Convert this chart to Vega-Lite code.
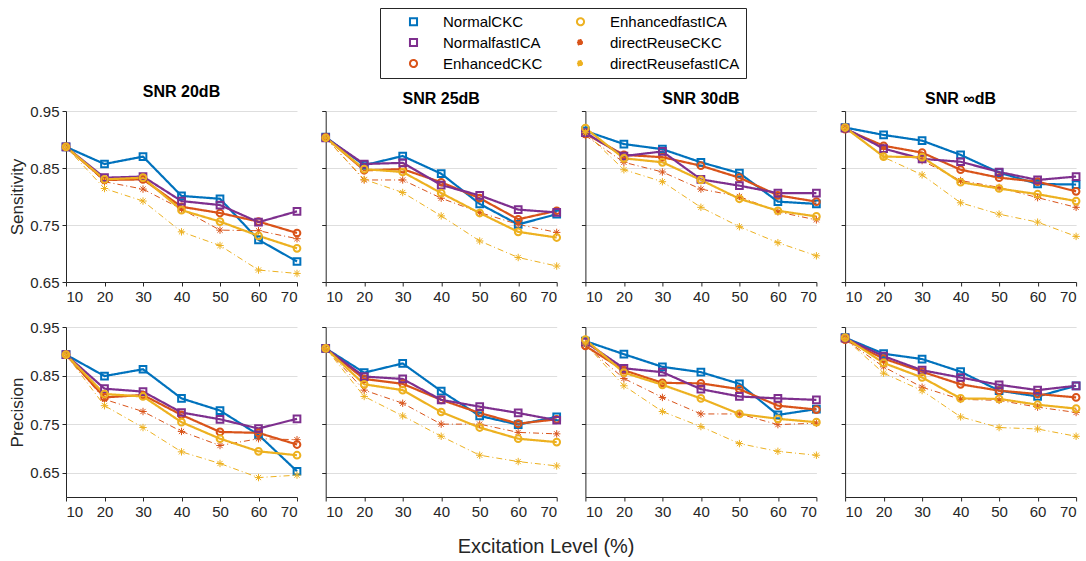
{
"$schema": "https://vega.github.io/schema/vega-lite/v6.json",
"autosize": {"type": "pad"},
"padding": {"left": 8, "top": 7, "right": 4, "bottom": 2},
"spacing": 16,
"title": {"text": "Excitation Level (%)", "orient": "bottom", "anchor": "middle", "frame": "bounds", "fontSize": 20, "fontWeight": "normal", "color": "#262626", "offset": 18},
"data": {"values": [
{"metric":"Sensitivity","snr":"20","method":"NormalCKC","level":10,"value":0.887},
{"metric":"Sensitivity","snr":"20","method":"NormalCKC","level":20,"value":0.857},
{"metric":"Sensitivity","snr":"20","method":"NormalCKC","level":30,"value":0.870},
{"metric":"Sensitivity","snr":"20","method":"NormalCKC","level":40,"value":0.801},
{"metric":"Sensitivity","snr":"20","method":"NormalCKC","level":50,"value":0.796},
{"metric":"Sensitivity","snr":"20","method":"NormalCKC","level":60,"value":0.724},
{"metric":"Sensitivity","snr":"20","method":"NormalCKC","level":70,"value":0.686},
{"metric":"Sensitivity","snr":"20","method":"EnhancedCKC","level":10,"value":0.887},
{"metric":"Sensitivity","snr":"20","method":"EnhancedCKC","level":20,"value":0.829},
{"metric":"Sensitivity","snr":"20","method":"EnhancedCKC","level":30,"value":0.830},
{"metric":"Sensitivity","snr":"20","method":"EnhancedCKC","level":40,"value":0.782},
{"metric":"Sensitivity","snr":"20","method":"EnhancedCKC","level":50,"value":0.771},
{"metric":"Sensitivity","snr":"20","method":"EnhancedCKC","level":60,"value":0.756},
{"metric":"Sensitivity","snr":"20","method":"EnhancedCKC","level":70,"value":0.736},
{"metric":"Sensitivity","snr":"20","method":"directReuseCKC","level":10,"value":0.887},
{"metric":"Sensitivity","snr":"20","method":"directReuseCKC","level":20,"value":0.826},
{"metric":"Sensitivity","snr":"20","method":"directReuseCKC","level":30,"value":0.813},
{"metric":"Sensitivity","snr":"20","method":"directReuseCKC","level":40,"value":0.778},
{"metric":"Sensitivity","snr":"20","method":"directReuseCKC","level":50,"value":0.741},
{"metric":"Sensitivity","snr":"20","method":"directReuseCKC","level":60,"value":0.740},
{"metric":"Sensitivity","snr":"20","method":"directReuseCKC","level":70,"value":0.726},
{"metric":"Sensitivity","snr":"20","method":"NormalfastICA","level":10,"value":0.887},
{"metric":"Sensitivity","snr":"20","method":"NormalfastICA","level":20,"value":0.833},
{"metric":"Sensitivity","snr":"20","method":"NormalfastICA","level":30,"value":0.835},
{"metric":"Sensitivity","snr":"20","method":"NormalfastICA","level":40,"value":0.792},
{"metric":"Sensitivity","snr":"20","method":"NormalfastICA","level":50,"value":0.785},
{"metric":"Sensitivity","snr":"20","method":"NormalfastICA","level":60,"value":0.755},
{"metric":"Sensitivity","snr":"20","method":"NormalfastICA","level":70,"value":0.774},
{"metric":"Sensitivity","snr":"20","method":"EnhancedfastICA","level":10,"value":0.887},
{"metric":"Sensitivity","snr":"20","method":"EnhancedfastICA","level":20,"value":0.830},
{"metric":"Sensitivity","snr":"20","method":"EnhancedfastICA","level":30,"value":0.833},
{"metric":"Sensitivity","snr":"20","method":"EnhancedfastICA","level":40,"value":0.776},
{"metric":"Sensitivity","snr":"20","method":"EnhancedfastICA","level":50,"value":0.756},
{"metric":"Sensitivity","snr":"20","method":"EnhancedfastICA","level":60,"value":0.731},
{"metric":"Sensitivity","snr":"20","method":"EnhancedfastICA","level":70,"value":0.709},
{"metric":"Sensitivity","snr":"20","method":"directReusefastICA","level":10,"value":0.887},
{"metric":"Sensitivity","snr":"20","method":"directReusefastICA","level":20,"value":0.814},
{"metric":"Sensitivity","snr":"20","method":"directReusefastICA","level":30,"value":0.792},
{"metric":"Sensitivity","snr":"20","method":"directReusefastICA","level":40,"value":0.738},
{"metric":"Sensitivity","snr":"20","method":"directReusefastICA","level":50,"value":0.714},
{"metric":"Sensitivity","snr":"20","method":"directReusefastICA","level":60,"value":0.671},
{"metric":"Sensitivity","snr":"20","method":"directReusefastICA","level":70,"value":0.665},
{"metric":"Sensitivity","snr":"25","method":"NormalCKC","level":10,"value":0.904},
{"metric":"Sensitivity","snr":"25","method":"NormalCKC","level":20,"value":0.855},
{"metric":"Sensitivity","snr":"25","method":"NormalCKC","level":30,"value":0.871},
{"metric":"Sensitivity","snr":"25","method":"NormalCKC","level":40,"value":0.840},
{"metric":"Sensitivity","snr":"25","method":"NormalCKC","level":50,"value":0.787},
{"metric":"Sensitivity","snr":"25","method":"NormalCKC","level":60,"value":0.751},
{"metric":"Sensitivity","snr":"25","method":"NormalCKC","level":70,"value":0.769},
{"metric":"Sensitivity","snr":"25","method":"EnhancedCKC","level":10,"value":0.904},
{"metric":"Sensitivity","snr":"25","method":"EnhancedCKC","level":20,"value":0.846},
{"metric":"Sensitivity","snr":"25","method":"EnhancedCKC","level":30,"value":0.848},
{"metric":"Sensitivity","snr":"25","method":"EnhancedCKC","level":40,"value":0.825},
{"metric":"Sensitivity","snr":"25","method":"EnhancedCKC","level":50,"value":0.797},
{"metric":"Sensitivity","snr":"25","method":"EnhancedCKC","level":60,"value":0.760},
{"metric":"Sensitivity","snr":"25","method":"EnhancedCKC","level":70,"value":0.775},
{"metric":"Sensitivity","snr":"25","method":"directReuseCKC","level":10,"value":0.903},
{"metric":"Sensitivity","snr":"25","method":"directReuseCKC","level":20,"value":0.829},
{"metric":"Sensitivity","snr":"25","method":"directReuseCKC","level":30,"value":0.829},
{"metric":"Sensitivity","snr":"25","method":"directReuseCKC","level":40,"value":0.797},
{"metric":"Sensitivity","snr":"25","method":"directReuseCKC","level":50,"value":0.772},
{"metric":"Sensitivity","snr":"25","method":"directReuseCKC","level":60,"value":0.751},
{"metric":"Sensitivity","snr":"25","method":"directReuseCKC","level":70,"value":0.737},
{"metric":"Sensitivity","snr":"25","method":"NormalfastICA","level":10,"value":0.903},
{"metric":"Sensitivity","snr":"25","method":"NormalfastICA","level":20,"value":0.857},
{"metric":"Sensitivity","snr":"25","method":"NormalfastICA","level":30,"value":0.859},
{"metric":"Sensitivity","snr":"25","method":"NormalfastICA","level":40,"value":0.820},
{"metric":"Sensitivity","snr":"25","method":"NormalfastICA","level":50,"value":0.802},
{"metric":"Sensitivity","snr":"25","method":"NormalfastICA","level":60,"value":0.777},
{"metric":"Sensitivity","snr":"25","method":"NormalfastICA","level":70,"value":0.772},
{"metric":"Sensitivity","snr":"25","method":"EnhancedfastICA","level":10,"value":0.903},
{"metric":"Sensitivity","snr":"25","method":"EnhancedfastICA","level":20,"value":0.848},
{"metric":"Sensitivity","snr":"25","method":"EnhancedfastICA","level":30,"value":0.843},
{"metric":"Sensitivity","snr":"25","method":"EnhancedfastICA","level":40,"value":0.806},
{"metric":"Sensitivity","snr":"25","method":"EnhancedfastICA","level":50,"value":0.771},
{"metric":"Sensitivity","snr":"25","method":"EnhancedfastICA","level":60,"value":0.738},
{"metric":"Sensitivity","snr":"25","method":"EnhancedfastICA","level":70,"value":0.728},
{"metric":"Sensitivity","snr":"25","method":"directReusefastICA","level":10,"value":0.903},
{"metric":"Sensitivity","snr":"25","method":"directReusefastICA","level":20,"value":0.830},
{"metric":"Sensitivity","snr":"25","method":"directReusefastICA","level":30,"value":0.807},
{"metric":"Sensitivity","snr":"25","method":"directReusefastICA","level":40,"value":0.766},
{"metric":"Sensitivity","snr":"25","method":"directReusefastICA","level":50,"value":0.722},
{"metric":"Sensitivity","snr":"25","method":"directReusefastICA","level":60,"value":0.693},
{"metric":"Sensitivity","snr":"25","method":"directReusefastICA","level":70,"value":0.678},
{"metric":"Sensitivity","snr":"30","method":"NormalCKC","level":10,"value":0.915},
{"metric":"Sensitivity","snr":"30","method":"NormalCKC","level":20,"value":0.892},
{"metric":"Sensitivity","snr":"30","method":"NormalCKC","level":30,"value":0.883},
{"metric":"Sensitivity","snr":"30","method":"NormalCKC","level":40,"value":0.860},
{"metric":"Sensitivity","snr":"30","method":"NormalCKC","level":50,"value":0.841},
{"metric":"Sensitivity","snr":"30","method":"NormalCKC","level":60,"value":0.791},
{"metric":"Sensitivity","snr":"30","method":"NormalCKC","level":70,"value":0.787},
{"metric":"Sensitivity","snr":"30","method":"EnhancedCKC","level":10,"value":0.910},
{"metric":"Sensitivity","snr":"30","method":"EnhancedCKC","level":20,"value":0.873},
{"metric":"Sensitivity","snr":"30","method":"EnhancedCKC","level":30,"value":0.869},
{"metric":"Sensitivity","snr":"30","method":"EnhancedCKC","level":40,"value":0.854},
{"metric":"Sensitivity","snr":"30","method":"EnhancedCKC","level":50,"value":0.833},
{"metric":"Sensitivity","snr":"30","method":"EnhancedCKC","level":60,"value":0.802},
{"metric":"Sensitivity","snr":"30","method":"EnhancedCKC","level":70,"value":0.791},
{"metric":"Sensitivity","snr":"30","method":"directReuseCKC","level":10,"value":0.907},
{"metric":"Sensitivity","snr":"30","method":"directReuseCKC","level":20,"value":0.860},
{"metric":"Sensitivity","snr":"30","method":"directReuseCKC","level":30,"value":0.843},
{"metric":"Sensitivity","snr":"30","method":"directReuseCKC","level":40,"value":0.813},
{"metric":"Sensitivity","snr":"30","method":"directReuseCKC","level":50,"value":0.800},
{"metric":"Sensitivity","snr":"30","method":"directReuseCKC","level":60,"value":0.773},
{"metric":"Sensitivity","snr":"30","method":"directReuseCKC","level":70,"value":0.759},
{"metric":"Sensitivity","snr":"30","method":"NormalfastICA","level":10,"value":0.912},
{"metric":"Sensitivity","snr":"30","method":"NormalfastICA","level":20,"value":0.871},
{"metric":"Sensitivity","snr":"30","method":"NormalfastICA","level":30,"value":0.879},
{"metric":"Sensitivity","snr":"30","method":"NormalfastICA","level":40,"value":0.830},
{"metric":"Sensitivity","snr":"30","method":"NormalfastICA","level":50,"value":0.819},
{"metric":"Sensitivity","snr":"30","method":"NormalfastICA","level":60,"value":0.806},
{"metric":"Sensitivity","snr":"30","method":"NormalfastICA","level":70,"value":0.806},
{"metric":"Sensitivity","snr":"30","method":"EnhancedfastICA","level":10,"value":0.920},
{"metric":"Sensitivity","snr":"30","method":"EnhancedfastICA","level":20,"value":0.867},
{"metric":"Sensitivity","snr":"30","method":"EnhancedfastICA","level":30,"value":0.860},
{"metric":"Sensitivity","snr":"30","method":"EnhancedfastICA","level":40,"value":0.829},
{"metric":"Sensitivity","snr":"30","method":"EnhancedfastICA","level":50,"value":0.796},
{"metric":"Sensitivity","snr":"30","method":"EnhancedfastICA","level":60,"value":0.775},
{"metric":"Sensitivity","snr":"30","method":"EnhancedfastICA","level":70,"value":0.765},
{"metric":"Sensitivity","snr":"30","method":"directReusefastICA","level":10,"value":0.912},
{"metric":"Sensitivity","snr":"30","method":"directReusefastICA","level":20,"value":0.847},
{"metric":"Sensitivity","snr":"30","method":"directReusefastICA","level":30,"value":0.826},
{"metric":"Sensitivity","snr":"30","method":"directReusefastICA","level":40,"value":0.781},
{"metric":"Sensitivity","snr":"30","method":"directReusefastICA","level":50,"value":0.747},
{"metric":"Sensitivity","snr":"30","method":"directReusefastICA","level":60,"value":0.719},
{"metric":"Sensitivity","snr":"30","method":"directReusefastICA","level":70,"value":0.696},
{"metric":"Sensitivity","snr":"inf","method":"NormalCKC","level":10,"value":0.921},
{"metric":"Sensitivity","snr":"inf","method":"NormalCKC","level":20,"value":0.908},
{"metric":"Sensitivity","snr":"inf","method":"NormalCKC","level":30,"value":0.898},
{"metric":"Sensitivity","snr":"inf","method":"NormalCKC","level":40,"value":0.873},
{"metric":"Sensitivity","snr":"inf","method":"NormalCKC","level":50,"value":0.842},
{"metric":"Sensitivity","snr":"inf","method":"NormalCKC","level":60,"value":0.822},
{"metric":"Sensitivity","snr":"inf","method":"NormalCKC","level":70,"value":0.821},
{"metric":"Sensitivity","snr":"inf","method":"EnhancedCKC","level":10,"value":0.918},
{"metric":"Sensitivity","snr":"inf","method":"EnhancedCKC","level":20,"value":0.889},
{"metric":"Sensitivity","snr":"inf","method":"EnhancedCKC","level":30,"value":0.877},
{"metric":"Sensitivity","snr":"inf","method":"EnhancedCKC","level":40,"value":0.847},
{"metric":"Sensitivity","snr":"inf","method":"EnhancedCKC","level":50,"value":0.833},
{"metric":"Sensitivity","snr":"inf","method":"EnhancedCKC","level":60,"value":0.826},
{"metric":"Sensitivity","snr":"inf","method":"EnhancedCKC","level":70,"value":0.809},
{"metric":"Sensitivity","snr":"inf","method":"directReuseCKC","level":10,"value":0.918},
{"metric":"Sensitivity","snr":"inf","method":"directReuseCKC","level":20,"value":0.886},
{"metric":"Sensitivity","snr":"inf","method":"directReuseCKC","level":30,"value":0.863},
{"metric":"Sensitivity","snr":"inf","method":"directReuseCKC","level":40,"value":0.828},
{"metric":"Sensitivity","snr":"inf","method":"directReuseCKC","level":50,"value":0.816},
{"metric":"Sensitivity","snr":"inf","method":"directReuseCKC","level":60,"value":0.798},
{"metric":"Sensitivity","snr":"inf","method":"directReuseCKC","level":70,"value":0.781},
{"metric":"Sensitivity","snr":"inf","method":"NormalfastICA","level":10,"value":0.920},
{"metric":"Sensitivity","snr":"inf","method":"NormalfastICA","level":20,"value":0.884},
{"metric":"Sensitivity","snr":"inf","method":"NormalfastICA","level":30,"value":0.866},
{"metric":"Sensitivity","snr":"inf","method":"NormalfastICA","level":40,"value":0.861},
{"metric":"Sensitivity","snr":"inf","method":"NormalfastICA","level":50,"value":0.843},
{"metric":"Sensitivity","snr":"inf","method":"NormalfastICA","level":60,"value":0.829},
{"metric":"Sensitivity","snr":"inf","method":"NormalfastICA","level":70,"value":0.835},
{"metric":"Sensitivity","snr":"inf","method":"EnhancedfastICA","level":10,"value":0.921},
{"metric":"Sensitivity","snr":"inf","method":"EnhancedfastICA","level":20,"value":0.870},
{"metric":"Sensitivity","snr":"inf","method":"EnhancedfastICA","level":30,"value":0.869},
{"metric":"Sensitivity","snr":"inf","method":"EnhancedfastICA","level":40,"value":0.825},
{"metric":"Sensitivity","snr":"inf","method":"EnhancedfastICA","level":50,"value":0.814},
{"metric":"Sensitivity","snr":"inf","method":"EnhancedfastICA","level":60,"value":0.804},
{"metric":"Sensitivity","snr":"inf","method":"EnhancedfastICA","level":70,"value":0.792},
{"metric":"Sensitivity","snr":"inf","method":"directReusefastICA","level":10,"value":0.920},
{"metric":"Sensitivity","snr":"inf","method":"directReusefastICA","level":20,"value":0.869},
{"metric":"Sensitivity","snr":"inf","method":"directReusefastICA","level":30,"value":0.838},
{"metric":"Sensitivity","snr":"inf","method":"directReusefastICA","level":40,"value":0.789},
{"metric":"Sensitivity","snr":"inf","method":"directReusefastICA","level":50,"value":0.769},
{"metric":"Sensitivity","snr":"inf","method":"directReusefastICA","level":60,"value":0.755},
{"metric":"Sensitivity","snr":"inf","method":"directReusefastICA","level":70,"value":0.730},
{"metric":"Precision","snr":"20","method":"NormalCKC","level":10,"value":0.893},
{"metric":"Precision","snr":"20","method":"NormalCKC","level":20,"value":0.849},
{"metric":"Precision","snr":"20","method":"NormalCKC","level":30,"value":0.863},
{"metric":"Precision","snr":"20","method":"NormalCKC","level":40,"value":0.803},
{"metric":"Precision","snr":"20","method":"NormalCKC","level":50,"value":0.778},
{"metric":"Precision","snr":"20","method":"NormalCKC","level":60,"value":0.728},
{"metric":"Precision","snr":"20","method":"NormalCKC","level":70,"value":0.653},
{"metric":"Precision","snr":"20","method":"EnhancedCKC","level":10,"value":0.893},
{"metric":"Precision","snr":"20","method":"EnhancedCKC","level":20,"value":0.805},
{"metric":"Precision","snr":"20","method":"EnhancedCKC","level":30,"value":0.810},
{"metric":"Precision","snr":"20","method":"EnhancedCKC","level":40,"value":0.769},
{"metric":"Precision","snr":"20","method":"EnhancedCKC","level":50,"value":0.734},
{"metric":"Precision","snr":"20","method":"EnhancedCKC","level":60,"value":0.732},
{"metric":"Precision","snr":"20","method":"EnhancedCKC","level":70,"value":0.708},
{"metric":"Precision","snr":"20","method":"directReuseCKC","level":10,"value":0.893},
{"metric":"Precision","snr":"20","method":"directReuseCKC","level":20,"value":0.801},
{"metric":"Precision","snr":"20","method":"directReuseCKC","level":30,"value":0.776},
{"metric":"Precision","snr":"20","method":"directReuseCKC","level":40,"value":0.735},
{"metric":"Precision","snr":"20","method":"directReuseCKC","level":50,"value":0.706},
{"metric":"Precision","snr":"20","method":"directReuseCKC","level":60,"value":0.720},
{"metric":"Precision","snr":"20","method":"directReuseCKC","level":70,"value":0.718},
{"metric":"Precision","snr":"20","method":"NormalfastICA","level":10,"value":0.893},
{"metric":"Precision","snr":"20","method":"NormalfastICA","level":20,"value":0.823},
{"metric":"Precision","snr":"20","method":"NormalfastICA","level":30,"value":0.817},
{"metric":"Precision","snr":"20","method":"NormalfastICA","level":40,"value":0.774},
{"metric":"Precision","snr":"20","method":"NormalfastICA","level":50,"value":0.760},
{"metric":"Precision","snr":"20","method":"NormalfastICA","level":60,"value":0.741},
{"metric":"Precision","snr":"20","method":"NormalfastICA","level":70,"value":0.761},
{"metric":"Precision","snr":"20","method":"EnhancedfastICA","level":10,"value":0.893},
{"metric":"Precision","snr":"20","method":"EnhancedfastICA","level":20,"value":0.812},
{"metric":"Precision","snr":"20","method":"EnhancedfastICA","level":30,"value":0.807},
{"metric":"Precision","snr":"20","method":"EnhancedfastICA","level":40,"value":0.754},
{"metric":"Precision","snr":"20","method":"EnhancedfastICA","level":50,"value":0.720},
{"metric":"Precision","snr":"20","method":"EnhancedfastICA","level":60,"value":0.694},
{"metric":"Precision","snr":"20","method":"EnhancedfastICA","level":70,"value":0.686},
{"metric":"Precision","snr":"20","method":"directReusefastICA","level":10,"value":0.893},
{"metric":"Precision","snr":"20","method":"directReusefastICA","level":20,"value":0.788},
{"metric":"Precision","snr":"20","method":"directReusefastICA","level":30,"value":0.743},
{"metric":"Precision","snr":"20","method":"directReusefastICA","level":40,"value":0.693},
{"metric":"Precision","snr":"20","method":"directReusefastICA","level":50,"value":0.669},
{"metric":"Precision","snr":"20","method":"directReusefastICA","level":60,"value":0.640},
{"metric":"Precision","snr":"20","method":"directReusefastICA","level":70,"value":0.645},
{"metric":"Precision","snr":"25","method":"NormalCKC","level":10,"value":0.906},
{"metric":"Precision","snr":"25","method":"NormalCKC","level":20,"value":0.856},
{"metric":"Precision","snr":"25","method":"NormalCKC","level":30,"value":0.875},
{"metric":"Precision","snr":"25","method":"NormalCKC","level":40,"value":0.818},
{"metric":"Precision","snr":"25","method":"NormalCKC","level":50,"value":0.767},
{"metric":"Precision","snr":"25","method":"NormalCKC","level":60,"value":0.749},
{"metric":"Precision","snr":"25","method":"NormalCKC","level":70,"value":0.765},
{"metric":"Precision","snr":"25","method":"EnhancedCKC","level":10,"value":0.906},
{"metric":"Precision","snr":"25","method":"EnhancedCKC","level":20,"value":0.843},
{"metric":"Precision","snr":"25","method":"EnhancedCKC","level":30,"value":0.833},
{"metric":"Precision","snr":"25","method":"EnhancedCKC","level":40,"value":0.800},
{"metric":"Precision","snr":"25","method":"EnhancedCKC","level":50,"value":0.773},
{"metric":"Precision","snr":"25","method":"EnhancedCKC","level":60,"value":0.751},
{"metric":"Precision","snr":"25","method":"EnhancedCKC","level":70,"value":0.760},
{"metric":"Precision","snr":"25","method":"directReuseCKC","level":10,"value":0.906},
{"metric":"Precision","snr":"25","method":"directReuseCKC","level":20,"value":0.820},
{"metric":"Precision","snr":"25","method":"directReuseCKC","level":30,"value":0.793},
{"metric":"Precision","snr":"25","method":"directReuseCKC","level":40,"value":0.750},
{"metric":"Precision","snr":"25","method":"directReuseCKC","level":50,"value":0.750},
{"metric":"Precision","snr":"25","method":"directReuseCKC","level":60,"value":0.733},
{"metric":"Precision","snr":"25","method":"directReuseCKC","level":70,"value":0.730},
{"metric":"Precision","snr":"25","method":"NormalfastICA","level":10,"value":0.906},
{"metric":"Precision","snr":"25","method":"NormalfastICA","level":20,"value":0.848},
{"metric":"Precision","snr":"25","method":"NormalfastICA","level":30,"value":0.843},
{"metric":"Precision","snr":"25","method":"NormalfastICA","level":40,"value":0.800},
{"metric":"Precision","snr":"25","method":"NormalfastICA","level":50,"value":0.786},
{"metric":"Precision","snr":"25","method":"NormalfastICA","level":60,"value":0.773},
{"metric":"Precision","snr":"25","method":"NormalfastICA","level":70,"value":0.758},
{"metric":"Precision","snr":"25","method":"EnhancedfastICA","level":10,"value":0.906},
{"metric":"Precision","snr":"25","method":"EnhancedfastICA","level":20,"value":0.832},
{"metric":"Precision","snr":"25","method":"EnhancedfastICA","level":30,"value":0.820},
{"metric":"Precision","snr":"25","method":"EnhancedfastICA","level":40,"value":0.775},
{"metric":"Precision","snr":"25","method":"EnhancedfastICA","level":50,"value":0.743},
{"metric":"Precision","snr":"25","method":"EnhancedfastICA","level":60,"value":0.720},
{"metric":"Precision","snr":"25","method":"EnhancedfastICA","level":70,"value":0.713},
{"metric":"Precision","snr":"25","method":"directReusefastICA","level":10,"value":0.906},
{"metric":"Precision","snr":"25","method":"directReusefastICA","level":20,"value":0.807},
{"metric":"Precision","snr":"25","method":"directReusefastICA","level":30,"value":0.767},
{"metric":"Precision","snr":"25","method":"directReusefastICA","level":40,"value":0.725},
{"metric":"Precision","snr":"25","method":"directReusefastICA","level":50,"value":0.686},
{"metric":"Precision","snr":"25","method":"directReusefastICA","level":60,"value":0.673},
{"metric":"Precision","snr":"25","method":"directReusefastICA","level":70,"value":0.664},
{"metric":"Precision","snr":"30","method":"NormalCKC","level":10,"value":0.921},
{"metric":"Precision","snr":"30","method":"NormalCKC","level":20,"value":0.894},
{"metric":"Precision","snr":"30","method":"NormalCKC","level":30,"value":0.868},
{"metric":"Precision","snr":"30","method":"NormalCKC","level":40,"value":0.857},
{"metric":"Precision","snr":"30","method":"NormalCKC","level":50,"value":0.833},
{"metric":"Precision","snr":"30","method":"NormalCKC","level":60,"value":0.769},
{"metric":"Precision","snr":"30","method":"NormalCKC","level":70,"value":0.781},
{"metric":"Precision","snr":"30","method":"EnhancedCKC","level":10,"value":0.911},
{"metric":"Precision","snr":"30","method":"EnhancedCKC","level":20,"value":0.861},
{"metric":"Precision","snr":"30","method":"EnhancedCKC","level":30,"value":0.835},
{"metric":"Precision","snr":"30","method":"EnhancedCKC","level":40,"value":0.834},
{"metric":"Precision","snr":"30","method":"EnhancedCKC","level":50,"value":0.822},
{"metric":"Precision","snr":"30","method":"EnhancedCKC","level":60,"value":0.788},
{"metric":"Precision","snr":"30","method":"EnhancedCKC","level":70,"value":0.780},
{"metric":"Precision","snr":"30","method":"directReuseCKC","level":10,"value":0.912},
{"metric":"Precision","snr":"30","method":"directReuseCKC","level":20,"value":0.844},
{"metric":"Precision","snr":"30","method":"directReuseCKC","level":30,"value":0.805},
{"metric":"Precision","snr":"30","method":"directReuseCKC","level":40,"value":0.771},
{"metric":"Precision","snr":"30","method":"directReuseCKC","level":50,"value":0.771},
{"metric":"Precision","snr":"30","method":"directReuseCKC","level":60,"value":0.749},
{"metric":"Precision","snr":"30","method":"directReuseCKC","level":70,"value":0.752},
{"metric":"Precision","snr":"30","method":"NormalfastICA","level":10,"value":0.919},
{"metric":"Precision","snr":"30","method":"NormalfastICA","level":20,"value":0.865},
{"metric":"Precision","snr":"30","method":"NormalfastICA","level":30,"value":0.857},
{"metric":"Precision","snr":"30","method":"NormalfastICA","level":40,"value":0.822},
{"metric":"Precision","snr":"30","method":"NormalfastICA","level":50,"value":0.807},
{"metric":"Precision","snr":"30","method":"NormalfastICA","level":60,"value":0.803},
{"metric":"Precision","snr":"30","method":"NormalfastICA","level":70,"value":0.800},
{"metric":"Precision","snr":"30","method":"EnhancedfastICA","level":10,"value":0.924},
{"metric":"Precision","snr":"30","method":"EnhancedfastICA","level":20,"value":0.856},
{"metric":"Precision","snr":"30","method":"EnhancedfastICA","level":30,"value":0.831},
{"metric":"Precision","snr":"30","method":"EnhancedfastICA","level":40,"value":0.803},
{"metric":"Precision","snr":"30","method":"EnhancedfastICA","level":50,"value":0.771},
{"metric":"Precision","snr":"30","method":"EnhancedfastICA","level":60,"value":0.761},
{"metric":"Precision","snr":"30","method":"EnhancedfastICA","level":70,"value":0.754},
{"metric":"Precision","snr":"30","method":"directReusefastICA","level":10,"value":0.915},
{"metric":"Precision","snr":"30","method":"directReusefastICA","level":20,"value":0.829},
{"metric":"Precision","snr":"30","method":"directReusefastICA","level":30,"value":0.776},
{"metric":"Precision","snr":"30","method":"directReusefastICA","level":40,"value":0.745},
{"metric":"Precision","snr":"30","method":"directReusefastICA","level":50,"value":0.710},
{"metric":"Precision","snr":"30","method":"directReusefastICA","level":60,"value":0.694},
{"metric":"Precision","snr":"30","method":"directReusefastICA","level":70,"value":0.686},
{"metric":"Precision","snr":"inf","method":"NormalCKC","level":10,"value":0.928},
{"metric":"Precision","snr":"inf","method":"NormalCKC","level":20,"value":0.895},
{"metric":"Precision","snr":"inf","method":"NormalCKC","level":30,"value":0.884},
{"metric":"Precision","snr":"inf","method":"NormalCKC","level":40,"value":0.858},
{"metric":"Precision","snr":"inf","method":"NormalCKC","level":50,"value":0.819},
{"metric":"Precision","snr":"inf","method":"NormalCKC","level":60,"value":0.807},
{"metric":"Precision","snr":"inf","method":"NormalCKC","level":70,"value":0.829},
{"metric":"Precision","snr":"inf","method":"EnhancedCKC","level":10,"value":0.924},
{"metric":"Precision","snr":"inf","method":"EnhancedCKC","level":20,"value":0.885},
{"metric":"Precision","snr":"inf","method":"EnhancedCKC","level":30,"value":0.858},
{"metric":"Precision","snr":"inf","method":"EnhancedCKC","level":40,"value":0.832},
{"metric":"Precision","snr":"inf","method":"EnhancedCKC","level":50,"value":0.819},
{"metric":"Precision","snr":"inf","method":"EnhancedCKC","level":60,"value":0.812},
{"metric":"Precision","snr":"inf","method":"EnhancedCKC","level":70,"value":0.805},
{"metric":"Precision","snr":"inf","method":"directReuseCKC","level":10,"value":0.924},
{"metric":"Precision","snr":"inf","method":"directReuseCKC","level":20,"value":0.868},
{"metric":"Precision","snr":"inf","method":"directReuseCKC","level":30,"value":0.826},
{"metric":"Precision","snr":"inf","method":"directReuseCKC","level":40,"value":0.801},
{"metric":"Precision","snr":"inf","method":"directReuseCKC","level":50,"value":0.799},
{"metric":"Precision","snr":"inf","method":"directReuseCKC","level":60,"value":0.785},
{"metric":"Precision","snr":"inf","method":"directReuseCKC","level":70,"value":0.774},
{"metric":"Precision","snr":"inf","method":"NormalfastICA","level":10,"value":0.927},
{"metric":"Precision","snr":"inf","method":"NormalfastICA","level":20,"value":0.890},
{"metric":"Precision","snr":"inf","method":"NormalfastICA","level":30,"value":0.861},
{"metric":"Precision","snr":"inf","method":"NormalfastICA","level":40,"value":0.846},
{"metric":"Precision","snr":"inf","method":"NormalfastICA","level":50,"value":0.831},
{"metric":"Precision","snr":"inf","method":"NormalfastICA","level":60,"value":0.820},
{"metric":"Precision","snr":"inf","method":"NormalfastICA","level":70,"value":0.829},
{"metric":"Precision","snr":"inf","method":"EnhancedfastICA","level":10,"value":0.928},
{"metric":"Precision","snr":"inf","method":"EnhancedfastICA","level":20,"value":0.876},
{"metric":"Precision","snr":"inf","method":"EnhancedfastICA","level":30,"value":0.846},
{"metric":"Precision","snr":"inf","method":"EnhancedfastICA","level":40,"value":0.803},
{"metric":"Precision","snr":"inf","method":"EnhancedfastICA","level":50,"value":0.802},
{"metric":"Precision","snr":"inf","method":"EnhancedfastICA","level":60,"value":0.790},
{"metric":"Precision","snr":"inf","method":"EnhancedfastICA","level":70,"value":0.782},
{"metric":"Precision","snr":"inf","method":"directReusefastICA","level":10,"value":0.926},
{"metric":"Precision","snr":"inf","method":"directReusefastICA","level":20,"value":0.855},
{"metric":"Precision","snr":"inf","method":"directReusefastICA","level":30,"value":0.819},
{"metric":"Precision","snr":"inf","method":"directReusefastICA","level":40,"value":0.765},
{"metric":"Precision","snr":"inf","method":"directReusefastICA","level":50,"value":0.743},
{"metric":"Precision","snr":"inf","method":"directReusefastICA","level":60,"value":0.740},
{"metric":"Precision","snr":"inf","method":"directReusefastICA","level":70,"value":0.725}
]},
"config": {
  "font": "Liberation Sans",
  "view": {"stroke": null},
  "axis": {"labelFont": "Liberation Sans", "labelFontSize": 15, "labelColor": "#262626", "domainColor": "#262626", "tickColor": "#262626", "gridColor": "#dedede", "titleFont": "Liberation Sans", "titleFontSize": 17, "titleFontWeight": "normal", "titleColor": "#262626", "tickSize": 4, "labelPadding": 3},
  "title": {"font": "Liberation Sans", "fontSize": 16, "fontWeight": "bold", "color": "#000000"}
},
"vconcat": [
{"hconcat": [
 {"width": 231, "height": 171, "title": {"text": "SNR 20dB", "offset": 4},
  "transform": [{"filter": "datum.metric == 'Sensitivity' && datum.snr == '20'"}],
  "encoding": {
   "x": {"field": "level", "type": "quantitative", "scale": {"domain": [10, 70], "nice": false}, "axis": {"values": [10,20,30,40,50,60,70], "title": null, "grid": false}},
   "y": {"field": "value", "type": "quantitative", "scale": {"domain": [0.65, 0.95], "nice": false, "zero": false}, "axis": {"values": [0.65,0.75,0.85,0.95], "format": ".2f", "title": "Sensitivity", "titlePadding": 3}},
   "color": {"field": "method", "type": "nominal", "scale": {"domain": ["NormalCKC","NormalfastICA","EnhancedCKC","EnhancedfastICA","directReuseCKC","directReusefastICA"], "range": ["#0072BD","#7E2F8E","#D95319","#EDB120","#D95319","#EDB120"]},
     "legend": {"orient": "none", "legendX": 314, "legendY": -103, "title": null, "columns": 2, "symbolSize": 50, "symbolStrokeWidth": 2, "symbolOffset": 20, "labelOffset": 22, "labelFontSize": 15, "labelColor": "#000000", "labelFont": "Liberation Sans", "padding": 6, "strokeColor": "#262626", "fillColor": "#ffffff", "rowPadding": 4, "columnPadding": 10}}
  },
  "layer": [
   {"mark": {"type": "line"}, "encoding": {"strokeDash": {"field": "method", "type": "nominal", "scale": {"domain": ["NormalCKC","NormalfastICA","EnhancedCKC","EnhancedfastICA","directReuseCKC","directReusefastICA"], "range": [[1,0],[1,0],[1,0],[1,0],[6,3,1,3],[6,3,1,3]]}, "legend": null}, "strokeWidth": {"condition": {"test": "indexof(datum.method,'direct')==0", "value": 1}, "value": 2.2}}},
   {"mark": {"type": "point", "filled": false, "opacity": 1}, "encoding": {"shape": {"field": "method", "type": "nominal", "scale": {"domain": ["NormalCKC","NormalfastICA","EnhancedCKC","EnhancedfastICA","directReuseCKC","directReusefastICA"], "range": ["square","square","circle","circle","M-1,0H1M0,-1V1M-0.7,-0.7L0.7,0.7M-0.7,0.7L0.7,-0.7","M-1,0H1M0,-1V1M-0.7,-0.7L0.7,0.7M-0.7,0.7L0.7,-0.7"]}, "legend": null}, "size": {"condition": {"test": "indexof(datum.method,'direct')==0", "value": 55}, "value": 45}, "strokeWidth": {"condition": {"test": "indexof(datum.method,'direct')==0", "value": 1}, "value": 2}}}
  ]},
 {"width": 231, "height": 171, "title": {"text": "SNR 25dB", "offset": 4},
  "transform": [{"filter": "datum.metric == 'Sensitivity' && datum.snr == '25'"}],
  "encoding": {
   "x": {"field": "level", "type": "quantitative", "scale": {"domain": [10, 70], "nice": false}, "axis": {"values": [10,20,30,40,50,60,70], "title": null, "grid": false}},
   "y": {"field": "value", "type": "quantitative", "scale": {"domain": [0.65, 0.95], "nice": false, "zero": false}, "axis": {"values": [0.65,0.75,0.85,0.95], "labels": false, "title": null}},
   "color": {"field": "method", "type": "nominal", "scale": {"domain": ["NormalCKC","NormalfastICA","EnhancedCKC","EnhancedfastICA","directReuseCKC","directReusefastICA"], "range": ["#0072BD","#7E2F8E","#D95319","#EDB120","#D95319","#EDB120"]}, "legend": null}
  },
  "layer": [
   {"mark": {"type": "line"}, "encoding": {"strokeDash": {"field": "method", "type": "nominal", "scale": {"domain": ["NormalCKC","NormalfastICA","EnhancedCKC","EnhancedfastICA","directReuseCKC","directReusefastICA"], "range": [[1,0],[1,0],[1,0],[1,0],[6,3,1,3],[6,3,1,3]]}, "legend": null}, "strokeWidth": {"condition": {"test": "indexof(datum.method,'direct')==0", "value": 1}, "value": 2.2}}},
   {"mark": {"type": "point", "filled": false, "opacity": 1}, "encoding": {"shape": {"field": "method", "type": "nominal", "scale": {"domain": ["NormalCKC","NormalfastICA","EnhancedCKC","EnhancedfastICA","directReuseCKC","directReusefastICA"], "range": ["square","square","circle","circle","M-1,0H1M0,-1V1M-0.7,-0.7L0.7,0.7M-0.7,0.7L0.7,-0.7","M-1,0H1M0,-1V1M-0.7,-0.7L0.7,0.7M-0.7,0.7L0.7,-0.7"]}, "legend": null}, "size": {"condition": {"test": "indexof(datum.method,'direct')==0", "value": 55}, "value": 45}, "strokeWidth": {"condition": {"test": "indexof(datum.method,'direct')==0", "value": 1}, "value": 2}}}
  ]},
 {"width": 231, "height": 171, "title": {"text": "SNR 30dB", "offset": 4},
  "transform": [{"filter": "datum.metric == 'Sensitivity' && datum.snr == '30'"}],
  "encoding": {
   "x": {"field": "level", "type": "quantitative", "scale": {"domain": [10, 70], "nice": false}, "axis": {"values": [10,20,30,40,50,60,70], "title": null, "grid": false}},
   "y": {"field": "value", "type": "quantitative", "scale": {"domain": [0.65, 0.95], "nice": false, "zero": false}, "axis": {"values": [0.65,0.75,0.85,0.95], "labels": false, "title": null}},
   "color": {"field": "method", "type": "nominal", "scale": {"domain": ["NormalCKC","NormalfastICA","EnhancedCKC","EnhancedfastICA","directReuseCKC","directReusefastICA"], "range": ["#0072BD","#7E2F8E","#D95319","#EDB120","#D95319","#EDB120"]}, "legend": null}
  },
  "layer": [
   {"mark": {"type": "line"}, "encoding": {"strokeDash": {"field": "method", "type": "nominal", "scale": {"domain": ["NormalCKC","NormalfastICA","EnhancedCKC","EnhancedfastICA","directReuseCKC","directReusefastICA"], "range": [[1,0],[1,0],[1,0],[1,0],[6,3,1,3],[6,3,1,3]]}, "legend": null}, "strokeWidth": {"condition": {"test": "indexof(datum.method,'direct')==0", "value": 1}, "value": 2.2}}},
   {"mark": {"type": "point", "filled": false, "opacity": 1}, "encoding": {"shape": {"field": "method", "type": "nominal", "scale": {"domain": ["NormalCKC","NormalfastICA","EnhancedCKC","EnhancedfastICA","directReuseCKC","directReusefastICA"], "range": ["square","square","circle","circle","M-1,0H1M0,-1V1M-0.7,-0.7L0.7,0.7M-0.7,0.7L0.7,-0.7","M-1,0H1M0,-1V1M-0.7,-0.7L0.7,0.7M-0.7,0.7L0.7,-0.7"]}, "legend": null}, "size": {"condition": {"test": "indexof(datum.method,'direct')==0", "value": 55}, "value": 45}, "strokeWidth": {"condition": {"test": "indexof(datum.method,'direct')==0", "value": 1}, "value": 2}}}
  ]},
 {"width": 231, "height": 171, "title": {"text": "SNR ∞dB", "offset": 4},
  "transform": [{"filter": "datum.metric == 'Sensitivity' && datum.snr == 'inf'"}],
  "encoding": {
   "x": {"field": "level", "type": "quantitative", "scale": {"domain": [10, 70], "nice": false}, "axis": {"values": [10,20,30,40,50,60,70], "title": null, "grid": false}},
   "y": {"field": "value", "type": "quantitative", "scale": {"domain": [0.65, 0.95], "nice": false, "zero": false}, "axis": {"values": [0.65,0.75,0.85,0.95], "labels": false, "title": null}},
   "color": {"field": "method", "type": "nominal", "scale": {"domain": ["NormalCKC","NormalfastICA","EnhancedCKC","EnhancedfastICA","directReuseCKC","directReusefastICA"], "range": ["#0072BD","#7E2F8E","#D95319","#EDB120","#D95319","#EDB120"]}, "legend": null}
  },
  "layer": [
   {"mark": {"type": "line"}, "encoding": {"strokeDash": {"field": "method", "type": "nominal", "scale": {"domain": ["NormalCKC","NormalfastICA","EnhancedCKC","EnhancedfastICA","directReuseCKC","directReusefastICA"], "range": [[1,0],[1,0],[1,0],[1,0],[6,3,1,3],[6,3,1,3]]}, "legend": null}, "strokeWidth": {"condition": {"test": "indexof(datum.method,'direct')==0", "value": 1}, "value": 2.2}}},
   {"mark": {"type": "point", "filled": false, "opacity": 1}, "encoding": {"shape": {"field": "method", "type": "nominal", "scale": {"domain": ["NormalCKC","NormalfastICA","EnhancedCKC","EnhancedfastICA","directReuseCKC","directReusefastICA"], "range": ["square","square","circle","circle","M-1,0H1M0,-1V1M-0.7,-0.7L0.7,0.7M-0.7,0.7L0.7,-0.7","M-1,0H1M0,-1V1M-0.7,-0.7L0.7,0.7M-0.7,0.7L0.7,-0.7"]}, "legend": null}, "size": {"condition": {"test": "indexof(datum.method,'direct')==0", "value": 55}, "value": 45}, "strokeWidth": {"condition": {"test": "indexof(datum.method,'direct')==0", "value": 1}, "value": 2}}}
  ]}
], "spacing": 28.7, "bounds": "flush"},
{"hconcat": [
 {"width": 231, "height": 170,
  "transform": [{"filter": "datum.metric == 'Precision' && datum.snr == '20'"}],
  "encoding": {
   "x": {"field": "level", "type": "quantitative", "scale": {"domain": [10, 70], "nice": false}, "axis": {"values": [10,20,30,40,50,60,70], "title": null, "grid": false}},
   "y": {"field": "value", "type": "quantitative", "scale": {"domain": [0.6, 0.95], "nice": false, "zero": false}, "axis": {"values": [0.65,0.75,0.85,0.95], "format": ".2f", "title": "Precision", "titlePadding": 3}},
   "color": {"field": "method", "type": "nominal", "scale": {"domain": ["NormalCKC","NormalfastICA","EnhancedCKC","EnhancedfastICA","directReuseCKC","directReusefastICA"], "range": ["#0072BD","#7E2F8E","#D95319","#EDB120","#D95319","#EDB120"]}, "legend": null}
  },
  "layer": [
   {"mark": {"type": "line"}, "encoding": {"strokeDash": {"field": "method", "type": "nominal", "scale": {"domain": ["NormalCKC","NormalfastICA","EnhancedCKC","EnhancedfastICA","directReuseCKC","directReusefastICA"], "range": [[1,0],[1,0],[1,0],[1,0],[6,3,1,3],[6,3,1,3]]}, "legend": null}, "strokeWidth": {"condition": {"test": "indexof(datum.method,'direct')==0", "value": 1}, "value": 2.2}}},
   {"mark": {"type": "point", "filled": false, "opacity": 1}, "encoding": {"shape": {"field": "method", "type": "nominal", "scale": {"domain": ["NormalCKC","NormalfastICA","EnhancedCKC","EnhancedfastICA","directReuseCKC","directReusefastICA"], "range": ["square","square","circle","circle","M-1,0H1M0,-1V1M-0.7,-0.7L0.7,0.7M-0.7,0.7L0.7,-0.7","M-1,0H1M0,-1V1M-0.7,-0.7L0.7,0.7M-0.7,0.7L0.7,-0.7"]}, "legend": null}, "size": {"condition": {"test": "indexof(datum.method,'direct')==0", "value": 55}, "value": 45}, "strokeWidth": {"condition": {"test": "indexof(datum.method,'direct')==0", "value": 1}, "value": 2}}}
  ]},
 {"width": 231, "height": 170,
  "transform": [{"filter": "datum.metric == 'Precision' && datum.snr == '25'"}],
  "encoding": {
   "x": {"field": "level", "type": "quantitative", "scale": {"domain": [10, 70], "nice": false}, "axis": {"values": [10,20,30,40,50,60,70], "title": null, "grid": false}},
   "y": {"field": "value", "type": "quantitative", "scale": {"domain": [0.6, 0.95], "nice": false, "zero": false}, "axis": {"values": [0.65,0.75,0.85,0.95], "labels": false, "title": null}},
   "color": {"field": "method", "type": "nominal", "scale": {"domain": ["NormalCKC","NormalfastICA","EnhancedCKC","EnhancedfastICA","directReuseCKC","directReusefastICA"], "range": ["#0072BD","#7E2F8E","#D95319","#EDB120","#D95319","#EDB120"]}, "legend": null}
  },
  "layer": [
   {"mark": {"type": "line"}, "encoding": {"strokeDash": {"field": "method", "type": "nominal", "scale": {"domain": ["NormalCKC","NormalfastICA","EnhancedCKC","EnhancedfastICA","directReuseCKC","directReusefastICA"], "range": [[1,0],[1,0],[1,0],[1,0],[6,3,1,3],[6,3,1,3]]}, "legend": null}, "strokeWidth": {"condition": {"test": "indexof(datum.method,'direct')==0", "value": 1}, "value": 2.2}}},
   {"mark": {"type": "point", "filled": false, "opacity": 1}, "encoding": {"shape": {"field": "method", "type": "nominal", "scale": {"domain": ["NormalCKC","NormalfastICA","EnhancedCKC","EnhancedfastICA","directReuseCKC","directReusefastICA"], "range": ["square","square","circle","circle","M-1,0H1M0,-1V1M-0.7,-0.7L0.7,0.7M-0.7,0.7L0.7,-0.7","M-1,0H1M0,-1V1M-0.7,-0.7L0.7,0.7M-0.7,0.7L0.7,-0.7"]}, "legend": null}, "size": {"condition": {"test": "indexof(datum.method,'direct')==0", "value": 55}, "value": 45}, "strokeWidth": {"condition": {"test": "indexof(datum.method,'direct')==0", "value": 1}, "value": 2}}}
  ]},
 {"width": 231, "height": 170,
  "transform": [{"filter": "datum.metric == 'Precision' && datum.snr == '30'"}],
  "encoding": {
   "x": {"field": "level", "type": "quantitative", "scale": {"domain": [10, 70], "nice": false}, "axis": {"values": [10,20,30,40,50,60,70], "title": null, "grid": false}},
   "y": {"field": "value", "type": "quantitative", "scale": {"domain": [0.6, 0.95], "nice": false, "zero": false}, "axis": {"values": [0.65,0.75,0.85,0.95], "labels": false, "title": null}},
   "color": {"field": "method", "type": "nominal", "scale": {"domain": ["NormalCKC","NormalfastICA","EnhancedCKC","EnhancedfastICA","directReuseCKC","directReusefastICA"], "range": ["#0072BD","#7E2F8E","#D95319","#EDB120","#D95319","#EDB120"]}, "legend": null}
  },
  "layer": [
   {"mark": {"type": "line"}, "encoding": {"strokeDash": {"field": "method", "type": "nominal", "scale": {"domain": ["NormalCKC","NormalfastICA","EnhancedCKC","EnhancedfastICA","directReuseCKC","directReusefastICA"], "range": [[1,0],[1,0],[1,0],[1,0],[6,3,1,3],[6,3,1,3]]}, "legend": null}, "strokeWidth": {"condition": {"test": "indexof(datum.method,'direct')==0", "value": 1}, "value": 2.2}}},
   {"mark": {"type": "point", "filled": false, "opacity": 1}, "encoding": {"shape": {"field": "method", "type": "nominal", "scale": {"domain": ["NormalCKC","NormalfastICA","EnhancedCKC","EnhancedfastICA","directReuseCKC","directReusefastICA"], "range": ["square","square","circle","circle","M-1,0H1M0,-1V1M-0.7,-0.7L0.7,0.7M-0.7,0.7L0.7,-0.7","M-1,0H1M0,-1V1M-0.7,-0.7L0.7,0.7M-0.7,0.7L0.7,-0.7"]}, "legend": null}, "size": {"condition": {"test": "indexof(datum.method,'direct')==0", "value": 55}, "value": 45}, "strokeWidth": {"condition": {"test": "indexof(datum.method,'direct')==0", "value": 1}, "value": 2}}}
  ]},
 {"width": 231, "height": 170,
  "transform": [{"filter": "datum.metric == 'Precision' && datum.snr == 'inf'"}],
  "encoding": {
   "x": {"field": "level", "type": "quantitative", "scale": {"domain": [10, 70], "nice": false}, "axis": {"values": [10,20,30,40,50,60,70], "title": null, "grid": false}},
   "y": {"field": "value", "type": "quantitative", "scale": {"domain": [0.6, 0.95], "nice": false, "zero": false}, "axis": {"values": [0.65,0.75,0.85,0.95], "labels": false, "title": null}},
   "color": {"field": "method", "type": "nominal", "scale": {"domain": ["NormalCKC","NormalfastICA","EnhancedCKC","EnhancedfastICA","directReuseCKC","directReusefastICA"], "range": ["#0072BD","#7E2F8E","#D95319","#EDB120","#D95319","#EDB120"]}, "legend": null}
  },
  "layer": [
   {"mark": {"type": "line"}, "encoding": {"strokeDash": {"field": "method", "type": "nominal", "scale": {"domain": ["NormalCKC","NormalfastICA","EnhancedCKC","EnhancedfastICA","directReuseCKC","directReusefastICA"], "range": [[1,0],[1,0],[1,0],[1,0],[6,3,1,3],[6,3,1,3]]}, "legend": null}, "strokeWidth": {"condition": {"test": "indexof(datum.method,'direct')==0", "value": 1}, "value": 2.2}}},
   {"mark": {"type": "point", "filled": false, "opacity": 1}, "encoding": {"shape": {"field": "method", "type": "nominal", "scale": {"domain": ["NormalCKC","NormalfastICA","EnhancedCKC","EnhancedfastICA","directReuseCKC","directReusefastICA"], "range": ["square","square","circle","circle","M-1,0H1M0,-1V1M-0.7,-0.7L0.7,0.7M-0.7,0.7L0.7,-0.7","M-1,0H1M0,-1V1M-0.7,-0.7L0.7,0.7M-0.7,0.7L0.7,-0.7"]}, "legend": null}, "size": {"condition": {"test": "indexof(datum.method,'direct')==0", "value": 55}, "value": 45}, "strokeWidth": {"condition": {"test": "indexof(datum.method,'direct')==0", "value": 1}, "value": 2}}}
  ]}
], "spacing": 28.7, "bounds": "flush"}
]
}
